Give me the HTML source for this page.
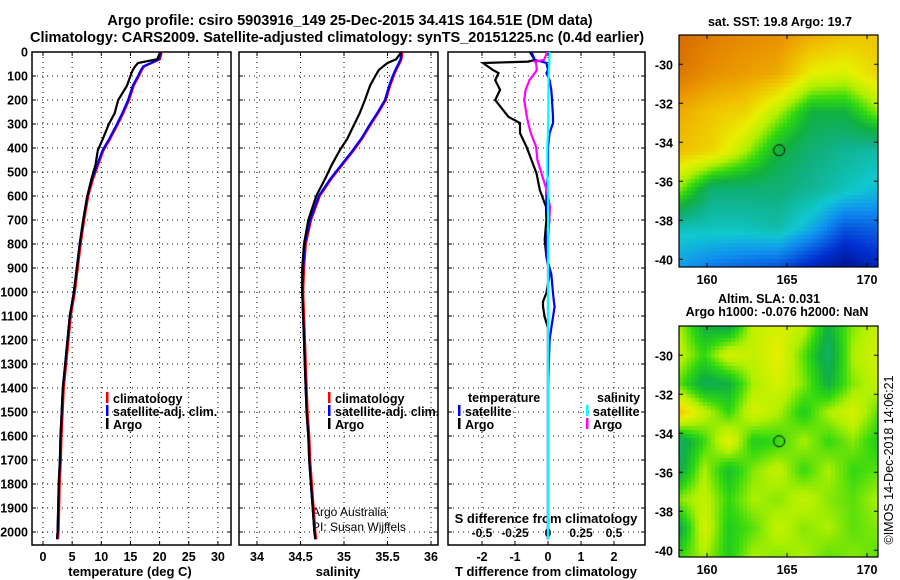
<!DOCTYPE html>
<html><head><meta charset="utf-8">
<style>
html,body{margin:0;padding:0;background:#fff;}
#root{position:relative;width:900px;height:580px;overflow:hidden;font-family:"Liberation Sans",sans-serif;}
svg text{font-family:"Liberation Sans",sans-serif;font-weight:bold;}
canvas{position:absolute;}
</style></head>
<body>
<div id="root">
<canvas id="map1" width="199" height="232" style="left:679px;top:35px"></canvas>
<canvas id="map2" width="199" height="231" style="left:679px;top:326px"></canvas>
<svg id="svg" width="900" height="580" style="position:absolute;left:0;top:0"></svg>
</div>
<script>
// ---- data ----
const depths = [0,30,46,60,75,100,140,200,255,300,360,410,470,530,600,700,800,900,1000,1100,1200,1300,1400,1500,1600,1700,1800,1900,2000,2030];
const argoT = [20.1,19.6,16.3,15.8,15.4,15.0,14.4,12.9,12.3,11.3,10.3,9.4,9.0,8.3,7.6,6.9,6.3,5.8,5.3,4.6,4.2,3.8,3.4,3.2,3.0,2.9,2.7,2.6,2.5,2.4];
const climT = [20.2,19.9,18.5,17.2,16.8,16.3,15.4,14.6,13.6,12.7,11.4,10.2,9.3,8.4,7.6,6.9,6.3,5.8,5.3,4.6,4.2,3.8,3.4,3.2,3.0,2.9,2.7,2.6,2.5,2.4];
const argoS = [35.66,35.6,35.5,35.45,35.4,35.36,35.3,35.24,35.18,35.12,35.04,34.95,34.86,34.78,34.68,34.59,34.54,34.52,34.52,34.53,34.54,34.55,34.56,34.57,34.59,34.6,34.62,34.64,34.66,34.67];
const climS = [35.66,35.65,35.63,35.61,35.59,35.56,35.52,35.47,35.38,35.3,35.2,35.1,34.97,34.84,34.71,34.61,34.55,34.53,34.52,34.53,34.54,34.55,34.56,34.57,34.59,34.6,34.62,34.64,34.66,34.67];
const diffDepths = [0,33,40,46,75,88,117,158,200,270,296,338,395,450,505,575,645,700,783,853,925,1004,1040,1061,1104,1150,1200,1400,1600,1800,2000,2030];
const argoTdiff = [-0.55,-0.4,-0.6,-1.97,-1.67,-1.5,-1.6,-1.45,-1.6,-1.2,-0.85,-0.85,-0.65,-0.5,-0.35,-0.25,-0.06,-0.05,-0.1,-0.05,0.05,-0.05,-0.15,-0.15,-0.1,0,0,0,0,0,0,0];
const satTdiff = [-0.5,-0.4,-0.2,-0.05,0,-0.05,0.05,0.1,0.12,0.15,0.15,0.05,0,0,0,-0.05,-0.05,0.05,-0.05,-0.05,0.1,0.15,0.18,0.2,0.15,0.1,0.05,0,0,0,0,0];
const argoSdiff = [-0.005,-0.03,-0.1,-0.09,-0.085,-0.1,-0.14,-0.17,-0.18,-0.16,-0.15,-0.13,-0.09,-0.08,-0.05,-0.01,0.015,0.01,0,0,0,0,0,0,0,0,0,0,0,0,0,0];
const satSdiff = [0.012,0.01,0.01,0.01,0.006,0.005,0.004,0.003,0.002,0.002,0,0,-0.005,-0.005,-0.005,0,0,0,0,0,0,0,0,0,0,0,0,0,0,0,0,0];
const depthTicks = [0,100,200,300,400,500,600,700,800,900,1000,1100,1200,1300,1400,1500,1600,1700,1800,1900,2000];
const tTicks = [0,5,10,15,20,25,30];
const sTicks = [34,34.5,35,35.5,36];
const dTTicks = [-2,-1,0,1,2];
const dSTicks = ['-0.5','-0.25','0','0.25','0.5'];
const latTicks = [-30,-32,-34,-36,-38,-40];
const lonTicks = [160,165,170];
const sstGrid = [
[0.88,0.85,0.83,0.82,0.78,0.75,0.74],
[0.86,0.82,0.8,0.78,0.68,0.66,0.72],
[0.78,0.74,0.72,0.62,0.5,0.5,0.6],
[0.75,0.72,0.62,0.5,0.45,0.42,0.4],
[0.6,0.45,0.45,0.45,0.42,0.38,0.34],
[0.38,0.38,0.38,0.4,0.32,0.2,0.22],
[0.3,0.25,0.22,0.2,0.12,0.06,0.12]];
const slaGrid = [
[.62,.5,.48,.64,.66,.64,.50,.60,.64],
[.64,.56,.66,.64,.68,.58,.46,.62,.66],
[.58,.48,.50,.62,.66,.60,.50,.60,.64],
[.74,.64,.56,.66,.62,.54,.62,.66,.58],
[.46,.56,.68,.54,.56,.62,.56,.60,.54],
[.48,.62,.52,.60,.64,.56,.62,.56,.58],
[.60,.64,.56,.62,.60,.64,.60,.58,.62],
[.48,.66,.54,.58,.64,.60,.62,.58,.60],
[.56,.62,.54,.62,.60,.62,.58,.60,.58]];

// ---- scales ----
const yD = d => 52 + d*0.24;
const xT = t => 43 + t*5.83;
const xS = s => 257 + (s-34)*87;
const xDT = v => 548 + v*33;
const xDS = v => 548 + v*132;
const NS='http://www.w3.org/2000/svg';
const svg=document.getElementById('svg');
function el(tag,attrs,parent){const e=document.createElementNS(NS,tag);for(const k in attrs)e.setAttribute(k,attrs[k]);(parent||svg).appendChild(e);return e;}
function txt(x,y,s,size,anchor,parent,weight){const t=el('text',{x:x,y:y,'font-size':size,'text-anchor':anchor||'middle'},parent);if(weight)t.style.fontWeight=weight;t.textContent=s;return t;}

const panels=[{l:32,r:231,name:'temperature-panel'},{l:239,r:438,name:'salinity-panel'},{l:448,r:645,name:'difference-panel'}];
const pTop=52,pBot=545;
panels.forEach((p,i)=>{
  const g=el('g',{});
  
  
  depthTicks.forEach(d=>{ if(d>0) el('line',{x1:p.l,x2:p.r,y1:yD(d),y2:yD(d),stroke:'#000','stroke-width':1,'stroke-dasharray':'1,4'},g);
    el('line',{x1:p.l,x2:p.l+4,y1:yD(d),y2:yD(d),stroke:'#000'},g);
    el('line',{x1:p.r-4,x2:p.r,y1:yD(d),y2:yD(d),stroke:'#000'},g);});
  const xs = i==0?tTicks.map(xT):i==1?sTicks.map(xS):dTTicks.map(xDT);
  xs.forEach(x=>{el('line',{x1:x,x2:x,y1:pTop,y2:pBot,stroke:'#000','stroke-dasharray':'1,4'},g);
    el('line',{x1:x,x2:x,y1:pBot-4,y2:pBot,stroke:'#000'},g);el('line',{x1:x,x2:x,y1:pTop,y2:pTop+4,stroke:'#000'},g);});
  el('rect',{x:p.l,y:pTop,width:p.r-p.l,height:pBot-pTop,fill:'none',stroke:'#000','stroke-width':1.5},g);
});
depthTicks.forEach(d=>{const t=txt(28,yD(d)+4.5,String(d),12.5,'end');});
tTicks.forEach(v=>txt(xT(v),561,String(v),12.5));
sTicks.forEach(v=>txt(xS(v),561,String(v),12.5));
dTTicks.forEach(v=>txt(xDT(v),561,String(v),12.5));
dSTicks.forEach((v,i)=>txt(xDT(dTTicks[i]),537,v,12));
let a;
a=txt(130,576,'temperature (deg C)',13);
a=txt(338,576,'salinity',13);
a=txt(546,576,'T difference from climatology',13);
a=txt(546,523,'S difference from climatology',13);
a=txt(350,25,'Argo profile: csiro 5903916_149 25-Dec-2015 34.41S 164.51E (DM data)',14.5);
a=txt(337,42,'Climatology: CARS2009. Satellite-adjusted climatology: synTS_20151225.nc (0.4d earlier)',14.5);
a=txt(312,516,'Argo Australia',12,'start',null,'normal');
a=txt(312,531,'PI: Susan Wijffels',12,'start',null,'normal');

function line(xs,ds,xf,color,name,off){
  const pts=xs.map((v,i)=>(xf(v)+(off||0)).toFixed(1)+','+yD(ds[i]).toFixed(1)).join(' ');
  const p=el('polyline',{points:pts,fill:'none',stroke:color,'stroke-width':2.2,'stroke-linejoin':'miter'});
  
  
}
line(climT,depths,xT,'#ff0000','temp-climatology-line',1);
line(climT,depths,xT,'#0000ff','temp-satellite-line');
line(argoT,depths,xT,'#000','temp-argo-line');
line(climS,depths,xS,'#ff0000','sal-climatology-line',1);
line(climS,depths,xS,'#0000ff','sal-satellite-line');
line(argoS,depths,xS,'#000','sal-argo-line');
line(argoTdiff,diffDepths,xDT,'#000','tdiff-argo-line');
line(satTdiff,diffDepths,xDT,'#0000ff','tdiff-satellite-line');
line(argoSdiff,diffDepths,xDS,'#ff00ff','sdiff-argo-line');
line(satSdiff,diffDepths,xDS,'#00ffff','sdiff-satellite-line');

function leg(x,y,color,label){const g=el('g',{});
  el('rect',{x:x-1,y:y-6,width:2.5,height:11,fill:color},g);txt(x+6,y+5,label,12.5,'start',g);}
leg(107,398,'#f00','climatology');leg(107,411,'#00f','satellite-adj. clim.');leg(107,424,'#000','Argo');
leg(329,398,'#f00','climatology');leg(329,411,'#00f','satellite-adj. clim.');leg(329,424,'#000','Argo');
txt(468,402,'temperature',12.5,'start');txt(597,402,'salinity',12.5,'start');
leg(459,411,'#00f','satellite');leg(459,424,'#000','Argo');
leg(587,411,'#0ff','satellite');leg(587,424,'#f0f','Argo');

// ---- maps ----
const cstops=[[0,[0,0,106]],[0.15,[0,48,208]],[0.28,[16,144,240]],[0.36,[16,200,208]],[0.44,[16,176,128]],[0.5,[16,176,64]],[0.56,[48,216,16]],[0.62,[176,240,0]],[0.68,[232,240,0]],[0.75,[240,192,0]],[0.82,[232,144,0]],[0.9,[208,96,0]],[1,[176,32,0]]];
function cmap(v){v=Math.max(0,Math.min(1,v));for(let i=1;i<cstops.length;i++){if(v<=cstops[i][0]){const a=cstops[i-1],b=cstops[i],f=(v-a[0])/(b[0]-a[0]);return 'rgb('+a[1].map((c,k)=>Math.round(c+(b[1][k]-c)*f)).join(',')+')';}}return 'rgb(176,32,0)';}
function interp(G,u,v){const R=G.length-1,C=G[0].length-1;const y=v*R,x=u*C;const i=Math.min(R-1,Math.floor(y)),j=Math.min(C-1,Math.floor(x));const fy=y-i,fx=x-j;
  return G[i][j]*(1-fx)*(1-fy)+G[i][j+1]*fx*(1-fy)+G[i+1][j]*(1-fx)*fy+G[i+1][j+1]*fx*fy;}
function drawMap(id,G,cell){const c=document.getElementById(id),ctx=c.getContext('2d');
  for(let y=0;y<c.height;y+=cell)for(let x=0;x<c.width;x+=cell){ctx.fillStyle=cmap(interp(G,(x+cell/2)/c.width,(y+cell/2)/c.height));ctx.fillRect(x,y,cell,cell);}
  const lonX=lon=>(lon-158.25)*16, latY=lat=>(-28.5-lat)*19.5;
  ctx.strokeStyle='#000';ctx.lineWidth=1;ctx.beginPath();ctx.arc(lonX(164.51),latY(-34.41),5.5,0,Math.PI*2);ctx.stroke();}
drawMap('map1',sstGrid,4);drawMap('map2',slaGrid,4);
[[35,267,'sst'],[326,557,'sla']].forEach(([t,b,n])=>{
  const g=el('g',{});
  el('rect',{x:679,y:t,width:199,height:b-t,fill:'none',stroke:'#000','stroke-width':1.2},g);
  latTicks.forEach(l=>{const y=t+(-28.5-l)*19.5;el('line',{x1:679,x2:683,y1:y,y2:y,stroke:'#000'},g);el('line',{x1:874,x2:878,y1:y,y2:y,stroke:'#000'},g);txt(673,y+5,String(l),12.5,'end',g);});
  lonTicks.forEach(l=>{const x=679+(l-158.25)*16;el('line',{x1:x,x2:x,y1:b-4,y2:b,stroke:'#000'},g);el('line',{x1:x,x2:x,y1:t,y2:t+4,stroke:'#000'},g);txt(x,b+17,String(l),12.5,'middle',g);});
});
a=txt(780,26,'sat. SST: 19.8 Argo: 19.7',12.5);
a=txt(769,303,'Altim. SLA: 0.031',12.5);
a=txt(777,316,'Argo h1000: -0.076 h2000: NaN',12.5);
a=el('text',{x:0,y:0,'font-size':12.5,'text-anchor':'middle',transform:'translate(893,460) rotate(-90)'});a.style.fontWeight='normal';a.textContent='©IMOS 14-Dec-2018 14:06:21';


</script>
</body></html>
